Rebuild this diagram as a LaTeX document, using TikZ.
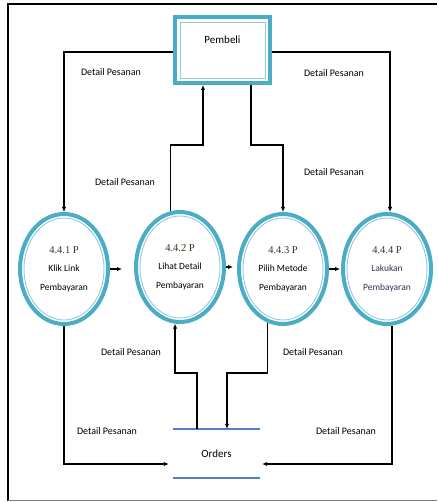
\documentclass[tikz,border=0pt]{standalone}
\usepackage{fontspec}
\setmainfont{Carlito}
\newfontfamily\numfont{Liberation Serif}
\usetikzlibrary{arrows.meta,shapes.geometric}
\definecolor{ringteal}{HTML}{4BACC6}
\definecolor{ringlight}{HTML}{8FCBDB}
\definecolor{storeblue}{HTML}{4F81BD}
\definecolor{numbrown}{HTML}{3D2E22}
\definecolor{lakpurple}{HTML}{3E2A5C}
\tikzset{
  flow/.style={line width=1.2pt, -{Latex[length=5pt,width=4.5pt]}},
  process/.style={ellipse, draw=ringteal, line width=4pt, minimum width=88pt,
    minimum height=110pt, inner sep=0pt, align=center,
    font=\fontsize{9.5}{18.5}\selectfont,
    path picture={\draw[ringlight, line width=0.9pt] (path picture bounding box.center)
      ellipse [x radius=40pt, y radius=51pt];}},
  entity/.style={draw=ringteal, line width=4pt, minimum width=95pt, text height=27pt,
    text depth=39pt, inner sep=0pt, font=\fontsize{11}{13}\selectfont,
    path picture={\draw[ringlight, line width=0.9pt]
      ([shift={(5pt,-5pt)}]path picture bounding box.north west) rectangle
      ([shift={(-5pt,5pt)}]path picture bounding box.south east);}},
  store/.style={minimum width=87pt, minimum height=49pt, inner sep=0pt,
    font=\fontsize{11}{13}\selectfont},
  storeline/.style={draw=storeblue, line width=2.5pt},
  flowlabel/.style={font=\fontsize{10}{12}\selectfont, inner sep=0pt},
}
\newcommand\pnum[1]{{\numfont\fontsize{10.5}{12}\selectfont\color{numbrown}#1}}
\begin{document}
\begin{tikzpicture}[x=1pt,y=-1pt]
  \useasboundingbox (0,0) rectangle (437,502);
  % frame
  \draw[line width=2pt] (437,4) -- (8,4) -- (8,501);
  \draw[gray, line width=1pt] (8,500.5) -- (437,500.5);
  % entity and store
  \node[entity] (pembeli) at (222.5,50) {Pembeli};
  \node[store] (orders) at (216.5,453.5) {Orders};
  \draw[storeline] (orders.north west) -- (orders.north east);
  \draw[storeline] (orders.south west) -- (orders.south east);
  % processes
  \node[process] (c1) at (64,269) {\pnum{4.4.1 P}\\Klik Link\\Pembayaran};
  \node[process] (c2) at (180,267) {\pnum{4.4.2 P}\\Lihat Detail\\Pembayaran};
  \node[process] (c3) at (283,269) {\pnum{4.4.3 P}\\Pilih Metode\\Pembayaran};
  \node[process, text=lakpurple] (c4) at (387,269) {\pnum{4.4.4 P}\\Lakukan\\Pembayaran};
  % bends
  \coordinate (up2) at (203,145);
  \coordinate (dn3) at (251,145);
  \coordinate (up2b) at (197,373);
  \coordinate (dn3b) at (227,373);
  % flows
  \draw[flow] ([yshift=-2pt]pembeli.west) -| (c1.north);
  \draw[flow] ([yshift=-2pt]pembeli.east) -| ([xshift=3pt]c4.north);
  \draw[flow] (c2.100) |- (up2) -- (up2 |- pembeli.south);
  \draw[flow] (dn3 |- pembeli.south) -- (dn3) -| (c3.north);
  \draw[flow, shorten >=12pt] (c1.east) -- (c1.east -| c2.west);
  \draw[flow, shorten >=4pt] (c2.east) -- (c2.east -| c3.west);
  \draw[flow, shorten >=1pt] (c3.east) -- (c3.east -| c4.west);
  \draw[flow, shorten >=4pt] (c1.south) |- ([yshift=-10.5pt]orders.west);
  \draw[flow] (orders.north -| up2b) -- (up2b) -| (c2.265);
  \draw[flow] (c3.254) |- (dn3b) -- (dn3b |- orders.north);
  \draw[flow, shorten >=2pt] (c4.275) |- ([yshift=-10.5pt]orders.east);
  % labels
  \node[flowlabel] (lbl1) at (111,72) {Detail Pesanan};
  \node[flowlabel] (lbl2) at (334,73) {Detail Pesanan};
  \node[flowlabel] (lbl3) at (125,182) {Detail Pesanan};
  \node[flowlabel] (lbl4) at (334,172) {Detail Pesanan};
  \node[flowlabel] (lbl5) at (131,352) {Detail Pesanan};
  \node[flowlabel] (lbl6) at (313,352) {Detail Pesanan};
  \node[flowlabel] (lbl7) at (107,431) {Detail Pesanan};
  \node[flowlabel] (lbl8) at (346,431) {Detail Pesanan};
\end{tikzpicture}
\end{document}
